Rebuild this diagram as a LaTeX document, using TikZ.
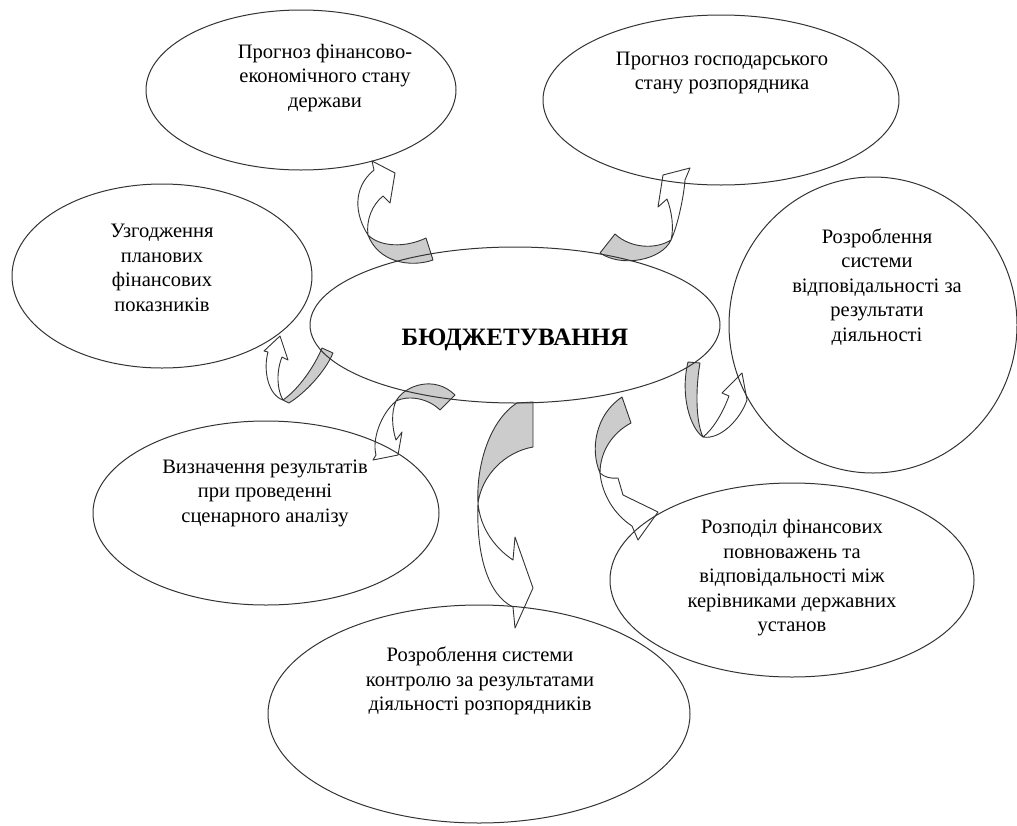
\documentclass[tikz,border=0pt]{standalone}
\usepackage{fontspec}
\setmainfont{Liberation Serif}
\usetikzlibrary{shapes.geometric}

\begin{document}
\begin{tikzpicture}[x=1pt, y=-1pt, line join=round]

% --- Global TikZ Styles ---
\tikzset{
    bubble/.style={
        ellipse,
        draw=black!80,
        line width=1pt,
        inner sep=0pt,
        outer sep=0pt
    },
    bubbletext/.style={
        align=center,
        font=\fontsize{20.5}{24.5}\selectfont,
        inner sep=0pt
    },
    hubtext/.style={
        font=\fontsize{25}{30}\selectfont\bfseries,
        inner sep=0pt
    },
    bandback/.style={
        draw=black!80,
        fill=black!20,
        line width=0.9pt
    },
    bandfront/.style={
        draw=black!80,
        fill=white,
        line width=0.9pt
    }
}

\useasboundingbox (0,0) rectangle (1017,825);

% =========================================================================
% --- Gebogen pijlen (eerst, zodat de ellipslijnen erover lopen) ---
% =========================================================================

% --- naar prognose staat ---
\draw[bandback] (368,235) .. controls (380,247) and (405,248) .. (426,238)
    -- (433,260) .. controls (410,268) and (378,262) .. cycle;
\draw[bandfront] (368,235) .. controls (355,215) and (352,188) .. (374,170)
    -- (372,161) -- (395,173) -- (390,203) -- (383,196)
    .. controls (372,205) and (366,220) .. cycle;

% --- naar prognose розпорядник ---
\draw[bandback] (615,234) .. controls (630,248) and (655,250) .. (671,240)
    .. controls (662,260) and (622,268) .. (600,253) -- cycle;
\draw[bandfront] (671,240) .. controls (678,225) and (684,195) .. (685,180)
    -- (690,168) -- (663,175) -- (658,207) -- (667,199)
    .. controls (672,212) and (674,228) .. cycle;

% --- naar узгодження ---
\draw[bandback] (322,348) .. controls (315,365) and (300,388) .. (283,400)
    -- (289,403) .. controls (305,393) and (325,372) .. (333,353) -- cycle;
\draw[bandfront] (283,400) .. controls (268,395) and (263,370) .. (268,352)
    -- (264,351) -- (280,336) -- (288,360) -- (282,357)
    .. controls (276,372) and (277,390) .. cycle;

% --- naar сценарний аналіз ---
\draw[bandback] (396,401) .. controls (405,385) and (435,375) .. (455,395)
    -- (440,410) .. controls (428,398) and (408,395) .. cycle;
\draw[bandfront] (396,401) .. controls (380,415) and (372,440) .. (376,455)
    -- (373,460) -- (398,455) -- (402,432) -- (396,440)
    .. controls (392,428) and (391,412) .. cycle;

% --- naar контроль ---
\draw[bandback] (517,403) -- (533,402) -- (533,447)
    .. controls (505,452) and (482,475) .. (478,503)
    .. controls (476,465) and (490,420) .. cycle;
\draw[bandfront] (478,503) .. controls (476,555) and (488,595) .. (513,607)
    -- (515,628) -- (533,588) -- (515,537) -- (513,560)
    .. controls (495,548) and (480,528) .. cycle;

% --- naar розподіл ---
\draw[bandback] (622,397) -- (631,423)
    .. controls (612,433) and (600,452) .. (600,473)
    .. controls (590,450) and (595,415) .. cycle;
\draw[bandfront] (600,473) .. controls (602,495) and (615,515) .. (632,526)
    -- (638,540) -- (658,512) -- (623,495) -- (618,478)
    .. controls (611,479) and (604,477) .. cycle;

% --- naar відповідальність ---
\draw[bandback] (688,362) -- (700,363)
    .. controls (696,385) and (695,420) .. (703,437)
    .. controls (690,428) and (680,395) .. cycle;
\draw[bandfront] (703,437) .. controls (720,440) and (740,420) .. (747,400)
    -- (742,373) -- (722,393) -- (729,396)
    .. controls (722,415) and (712,430) .. cycle;

% =========================================================================
% --- Ellipsen ---
% =========================================================================
\node[bubble, minimum width=410pt, minimum height=156pt] (budget) at (515,325) {};
\node[bubble, minimum width=310pt, minimum height=160pt] (stateForecast) at (301,90) {};
\node[bubble, minimum width=356pt, minimum height=170pt] (unitForecast) at (721,100) {};
\node[bubble, minimum width=300pt, minimum height=184pt] (agreement) at (162,276) {};
\node[bubble, minimum width=288pt, minimum height=296pt] (responsibility) at (873,325) {};
\node[bubble, minimum width=346pt, minimum height=184pt] (scenario) at (266,513) {};
\node[bubble, minimum width=364pt, minimum height=194pt] (distribution) at (792,580) {};
\node[bubble, minimum width=422pt, minimum height=218pt] (control) at (479,714) {};

% --- Teksten ---
\node[hubtext] (budgetText) at (515,340) {БЮДЖЕТУВАННЯ};

\node[bubbletext] (stateForecastText) at (325,78)
    {Прогноз фінансово-\\економічного стану\\держави};
\node[bubbletext] (unitForecastText) at (722,73)
    {Прогноз господарського\\стану розпорядника};
\node[bubbletext] (agreementText) at (162,268)
    {Узгодження\\планових\\фінансових\\показників};
\node[bubbletext] (responsibilityText) at (877,287)
    {Розроблення\\системи\\відповідальності за\\результати\\діяльності};
\node[bubbletext] (scenarioText) at (265,493)
    {Визначення результатів\\при проведенні\\сценарного аналізу};
\node[bubbletext] (distributionText) at (792,578)
    {Розподіл фінансових\\повноважень та\\відповідальності між\\керівниками державних\\установ};
\node[bubbletext] (controlText) at (480,681)
    {Розроблення системи\\контролю за результатами\\діяльності розпорядників};

\end{tikzpicture}
\end{document}
